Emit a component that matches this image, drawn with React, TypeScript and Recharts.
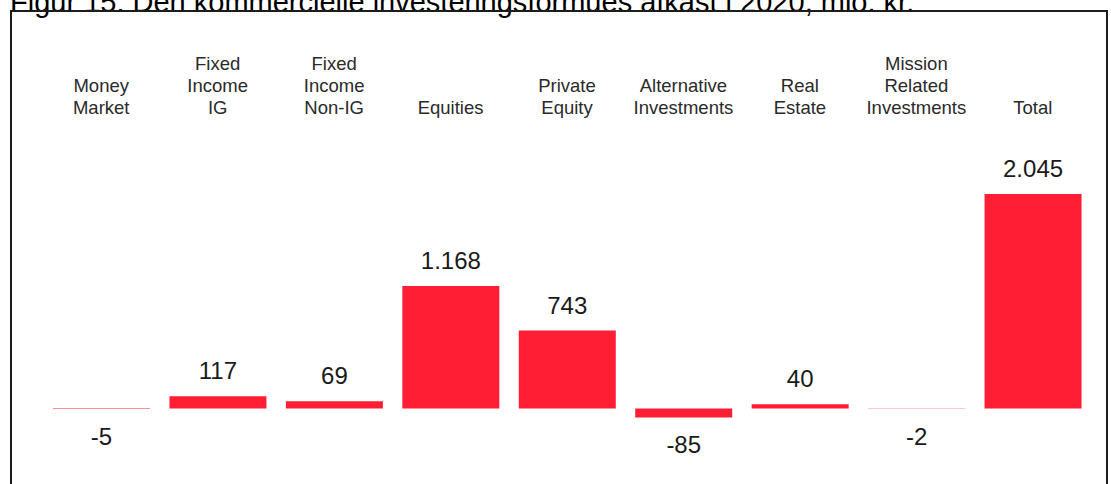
import { BarChart, Bar, XAxis, YAxis, LabelList } from 'recharts'

// Afkast 2020, mio. kr.
const categories = [
  'Money\nMarket',
  'Fixed\nIncome\nIG',
  'Fixed\nIncome\nNon-IG',
  'Equities',
  'Private\nEquity',
  'Alternative\nInvestments',
  'Real\nEstate',
  'Mission\nRelated\nInvestments',
  'Total',
]
const returns = [-5, 117, 69, 1168, 743, -85, 40, -2, 2045]

const BAR_RED = '#FF1E34'
const FONT = '"Liberation Sans", Arial, sans-serif'

const data = categories.map((name, i) => ({ name, value: returns[i] }))

// danish thousands separator: 2045 -> 2.045
const fmt = (n: number) => {
  const s = Math.abs(n).toString().replace(/\B(?=(\d{3})+(?!\d))/g, '.')
  return (n < 0 ? '-' : '') + s
}

function CategoryTick(props: any) {
  const { x, y, payload } = props
  const lines = String(payload.value).split('\n')
  return (
    <g transform={`translate(${x},${y})`}>
      {lines.map((line, i) => (
        <text
          key={i}
          x={0}
          y={-16 - (lines.length - 1 - i) * 22}
          textAnchor="middle"
          fontSize={18.5}
          fontFamily={FONT}
          fill="#2a2a2a"
        >
          {line}
        </text>
      ))}
    </g>
  )
}

function ValueLabel(props: any) {
  const { x, y, width, height, value } = props
  const top = Math.min(y, y + height)
  const bottom = Math.max(y, y + height)
  const ty = value >= 0 ? top - 17 : bottom + 36
  return (
    <text x={x + width / 2} y={ty} textAnchor="middle" fontSize={24} fontFamily={FONT} fill="#1a1a1a">
      {fmt(value)}
    </text>
  )
}

export default function App() {
  return (
    <div style={{
      position: 'fixed', left: 0, top: 0, width: 1111, height: 484,
      overflow: 'hidden', background: '#fff', fontFamily: FONT,
    }}>
      <div style={{
        position: 'absolute', left: 10, top: -12, fontSize: 29, lineHeight: '29px',
        color: '#000', whiteSpace: 'nowrap',
      }}>
        Figur 15: Den kommercielle investeringsformues afkast i 2020, mio. kr.
      </div>
      <div style={{
        position: 'absolute', left: 10, top: 10, width: 1098, height: 560,
        border: '2px solid #1c1c1c', boxSizing: 'border-box',
      }} />
      <div style={{ position: 'absolute', left: 0, top: 0 }}>
        <BarChart width={1111} height={484} data={data}
          margin={{ top: 0, right: 20, bottom: 14, left: 43 }}>
          <XAxis
            dataKey="name"
            orientation="top"
            height={130}
            axisLine={false}
            tickLine={false}
            tickSize={0}
            tickMargin={0}
            interval={0}
            tick={<CategoryTick />}
          />
          <YAxis hide type="number" domain={[-586, 2655]} allowDataOverflow />
          <Bar dataKey="value" fill={BAR_RED} barSize={97} isAnimationActive={false}>
            <LabelList dataKey="value" content={<ValueLabel />} />
          </Bar>
        </BarChart>
      </div>
    </div>
  )
}
